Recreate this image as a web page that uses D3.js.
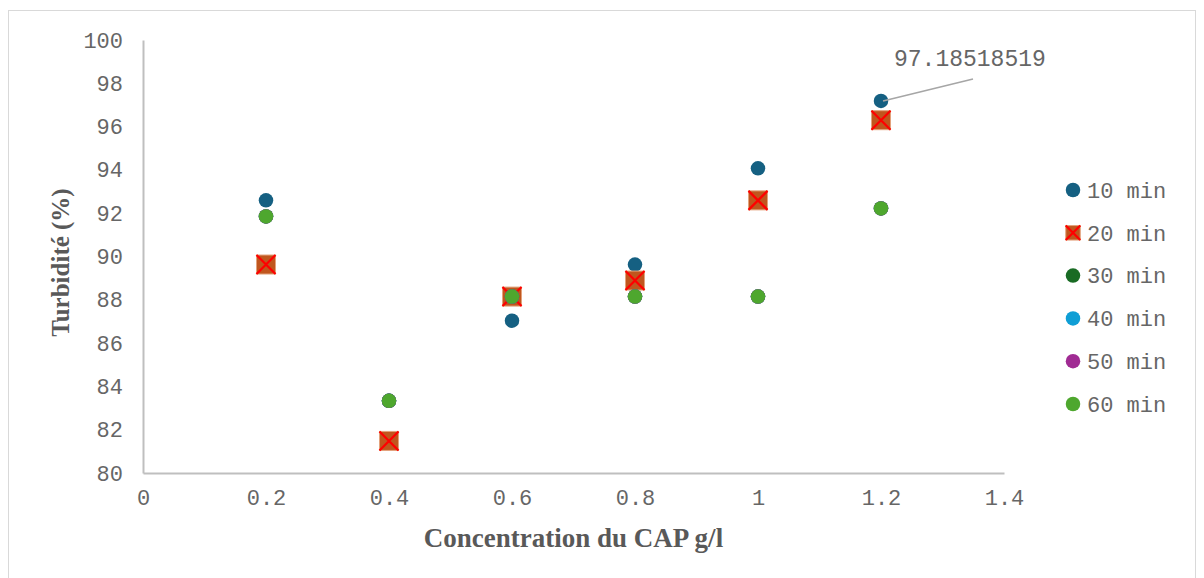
<!DOCTYPE html>
<html>
<head>
<meta charset="utf-8">
<script src="https://cdn.jsdelivr.net/npm/d3@7"></script>
<style>
  html, body { margin: 0; padding: 0; background: #fff; }
  svg { display: block; }
</style>
</head>
<body>
<svg id="chart" width="1204" height="578"></svg>
<script>
// Concentration of powdered activated carbon (g/l)
const concentrations = [0.2, 0.4, 0.6, 0.8, 1.0, 1.2];

// Turbidity removal (%) per contact time
const min10 = [92.59259259, 83.33333333, 87.03703704, 89.62962963, 94.07407407, 97.18518519];
const min20 = [89.62962963, 81.48148148, 88.14814815, 88.88888889, 92.59259259, 96.2962963];
const min30 = [91.85185185, 83.33333333, 88.14814815, 88.14814815, 88.14814815, 92.22222222];
const min40 = [91.85185185, 83.33333333, 88.14814815, 88.14814815, 88.14814815, 92.22222222];
const min50 = [91.85185185, 83.33333333, 88.14814815, 88.14814815, 88.14814815, 92.22222222];
const min60 = [91.85185185, 83.33333333, 88.14814815, 88.14814815, 88.14814815, 92.22222222];

const seriesNames = ["10 min", "20 min", "30 min", "40 min", "50 min", "60 min"];
const seriesValues = [min10, min20, min30, min40, min50, min60];

const xTicks = [0, 0.2, 0.4, 0.6, 0.8, 1, 1.2, 1.4];
const yTicks = [80, 82, 84, 86, 88, 90, 92, 94, 96, 98, 100];

const colors = ["#156082", "#C0561E", "#196B24", "#0F9ED5", "#A02B93", "#4EA72E"];
const shapes = ["circle", "xsquare", "circle", "circle", "circle", "circle"];

const svg = d3.select("#chart");
const mono = "'Liberation Mono', 'Courier New', monospace";
const serif = "'Liberation Serif', 'Times New Roman', serif";
const textColor = "#595959";
const monoColor = "#666666";

// chart frame
svg.append("rect")
  .attr("x", 8.5).attr("y", 10.5)
  .attr("width", 1187).attr("height", 600)
  .attr("fill", "none").attr("stroke", "#D9D9D9").attr("stroke-width", 1);

const x = d3.scaleLinear().domain([0, 1.4]).range([143, 1004]);
const y = d3.scaleLinear().domain([80, 100]).range([473, 40]);

// axes
const xAxis = svg.append("g")
  .attr("transform", `translate(0,${y(80)})`)
  .call(d3.axisBottom(x).tickValues(xTicks).tickSize(0).tickPadding(16)
        .tickFormat(d => d3.format("")(+d.toFixed(1))));
const yAxis = svg.append("g")
  .attr("transform", `translate(${x(0)},0)`)
  .call(d3.axisLeft(y).tickValues(yTicks).tickSize(0).tickPadding(20));

[xAxis, yAxis].forEach(g => {
  g.select(".domain").attr("stroke", "#BFBFBF").attr("stroke-width", 2);
  g.selectAll("text")
    .attr("font-family", mono).attr("font-size", 22)
    .attr("fill", monoColor);
});

// axis titles
svg.append("text")
  .attr("x", (x(0) + x(1.4)) / 2).attr("y", 547)
  .attr("text-anchor", "middle")
  .attr("font-family", serif).attr("font-weight", "bold").attr("font-size", 27)
  .attr("fill", textColor)
  .text("Concentration du CAP g/l");

svg.append("text")
  .attr("transform", `translate(69,${(y(80) + y(100)) / 2 + 6}) rotate(-90)`)
  .attr("text-anchor", "middle")
  .attr("font-family", serif).attr("font-weight", "bold").attr("font-size", 25)
  .attr("fill", textColor)
  .text("Turbidité (%)");

// marker drawing
function drawMarker(g, shape, color, size) {
  if (shape === "circle") {
    g.append("circle").attr("r", size / 2).attr("fill", color);
  } else {
    const h = size / 2;
    g.append("rect")
      .attr("x", -h).attr("y", -h).attr("width", size).attr("height", size)
      .attr("fill", color).attr("stroke", "#E3A27C").attr("stroke-width", 1);
    g.append("path")
      .attr("d", `M${-h},${-h}L${h},${h}M${h},${-h}L${-h},${h}`)
      .attr("stroke", "#FF0000").attr("stroke-width", 2.2).attr("fill", "none");
  }
}

// points
seriesValues.forEach((vals, i) => {
  const layer = svg.append("g").attr("class", "series");
  vals.forEach((v, j) => {
    const g = layer.append("g")
      .attr("transform", `translate(${x(concentrations[j])},${y(v)})`);
    drawMarker(g, shapes[i], colors[i], shapes[i] === "circle" ? 14.5 : 19);
  });
});

// value label for the last 10 min point
const lastVal = min10[min10.length - 1];
const px = x(concentrations[concentrations.length - 1]);
const py = y(lastVal);
svg.append("line")
  .attr("x1", px + 2).attr("y1", py)
  .attr("x2", px + 92).attr("y2", py - 22)
  .attr("stroke", "#A6A6A6").attr("stroke-width", 1.5);
svg.append("text")
  .attr("x", px + 13).attr("y", 66)
  .attr("font-family", mono).attr("font-size", 23)
  .attr("fill", monoColor)
  .text(lastVal.toFixed(8));

// legend
const legend = svg.append("g").attr("transform", "translate(1073,190)");
seriesNames.forEach((name, i) => {
  const g = legend.append("g").attr("transform", `translate(0,${i * 42.8})`);
  drawMarker(g, shapes[i], colors[i], 14.5);
  g.append("text")
    .attr("x", 14).attr("dy", "0.35em")
    .attr("font-family", mono).attr("font-size", 22)
    .attr("fill", monoColor)
    .text(name);
});
</script>
</body>
</html>
